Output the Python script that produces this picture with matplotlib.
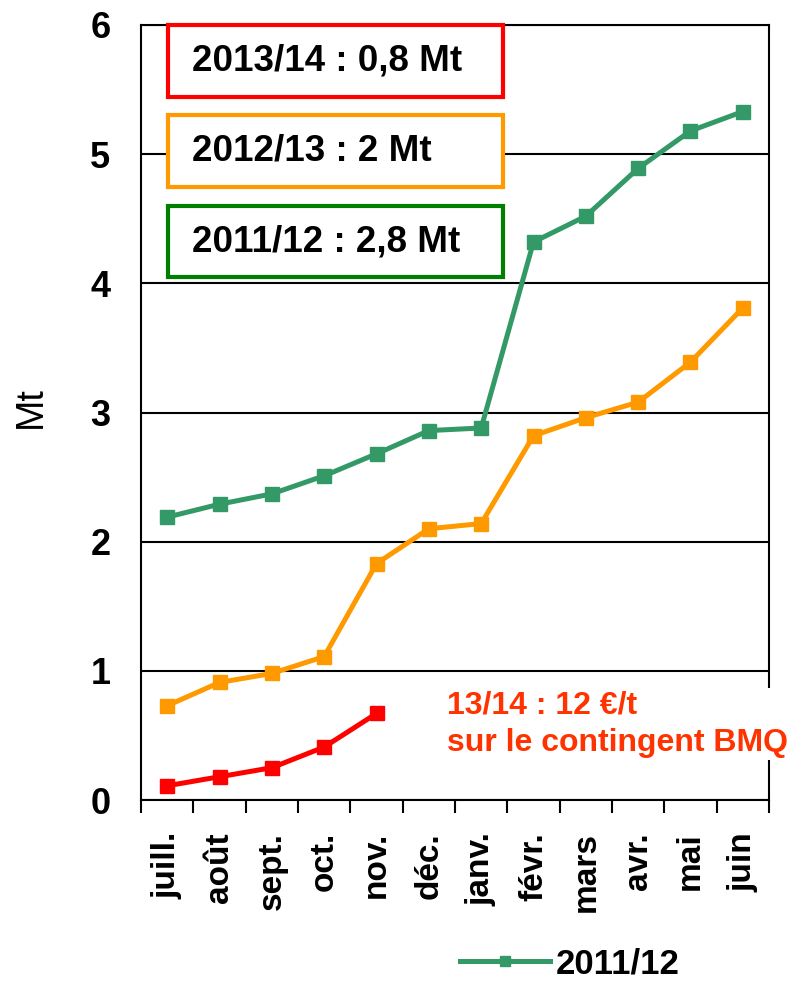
import matplotlib
matplotlib.use("Agg")
import matplotlib.pyplot as plt
from matplotlib.patches import Rectangle

plt.rcParams['font.family'] = ['Liberation Sans', 'DejaVu Sans']

months = ['juill.', 'août', 'sept.', 'oct.', 'nov.', 'déc.', 'janv.', 'févr.',
          'mars', 'avr.', 'mai', 'juin']
s_2011_12 = [2.19, 2.29, 2.37, 2.51, 2.68, 2.86, 2.88, 4.32, 4.52, 4.89, 5.18, 5.33]
s_2012_13 = [0.73, 0.91, 0.98, 1.11, 1.83, 2.10, 2.14, 2.82, 2.96, 3.08, 3.39, 3.81]
s_2013_14 = [0.11, 0.18, 0.25, 0.41, 0.67]
box_labels = ['2013/14 : 0,8 Mt', '2012/13 : 2 Mt', '2011/12 : 2,8 Mt']
annotation = '13/14 : 12 €/t\nsur le contingent BMQ'
yticks = [0, 1, 2, 3, 4, 5, 6]

W, H = 791, 982
fig = plt.figure(figsize=(W / 100, H / 100), dpi=100)
ax = fig.add_axes([141 / W, 1 - 800 / H, (769 - 141) / W, (800 - 25) / H])

x = list(range(len(months)))
c_green, c_orange, c_red = '#339966', '#FF9900', '#FF0000'
kw = dict(marker='s', markersize=10.5, linewidth=3.6, zorder=3)
l1, = ax.plot(x, s_2011_12, color=c_green, label='2011/12', **kw)
ax.plot(x, s_2012_13, color=c_orange, label='2012/13', **kw)
ax.plot(x[:len(s_2013_14)], s_2013_14, color=c_red, label='2013/14', **kw)

ax.set_xlim(-0.5, len(months) - 0.5)
ax.set_ylim(0, 6)
ax.set_yticks(yticks)
ax.set_yticklabels([str(v) for v in yticks], fontsize=26, fontweight='bold')
ax.tick_params(axis='y', length=0, pad=22)
ax.yaxis.grid(True, color='black', linewidth=1.5, zorder=1)
ax.set_axisbelow(True)

ax.set_xticks(x)
ax.set_xticklabels(months, rotation=90, fontsize=24, fontweight='bold', va='top')
ax.tick_params(axis='x', which='major', length=0, pad=23)
ax.set_xticks([i - 0.5 for i in range(len(months) + 1)], minor=True)
ax.tick_params(axis='x', which='minor', length=9, width=1.5, direction='out')

for sp in ax.spines.values():
    sp.set_linewidth(1.5)
    sp.set_color('black')

fig.text(31 / W, 1 - 407 / H, 'Mt', fontsize=27, rotation=90,
         ha='center', va='center')

# boxes
box_colors = ['#FF0000', '#FF9900', '#008000']
box_y = [(0.907, 1.0), (0.791, 0.884), (0.675, 0.766)]
for lab, col, (y0, y1) in zip(box_labels, box_colors, box_y):
    r = Rectangle((0.043, y0), 0.533, y1 - y0, transform=ax.transAxes,
                  facecolor='white', edgecolor=col, linewidth=3, zorder=5,
                  clip_on=False)
    ax.add_patch(r)
    ax.text(0.081, (y0 + y1) / 2, lab, transform=ax.transAxes, fontsize=26.5,
            fontweight='bold', va='center', ha='left', zorder=6)

ax.text(0.487, 0.098, annotation, transform=ax.transAxes, fontsize=23,
        fontweight='bold', color='#FF3300', va='center', ha='left',
        linespacing=1.3, zorder=6, clip_on=False,
        bbox=dict(facecolor='white', edgecolor='none', pad=2))

fig.legend(handles=[l1], loc='center left', bbox_to_anchor=(460 / W, 1 - 964 / H),
           frameon=False, handlelength=2.6, handletextpad=0.15,
           borderpad=0, borderaxespad=0, markerscale=0.65,
           prop={'size': 25, 'weight': 'bold'})

fig.savefig('out.png', dpi=100)
